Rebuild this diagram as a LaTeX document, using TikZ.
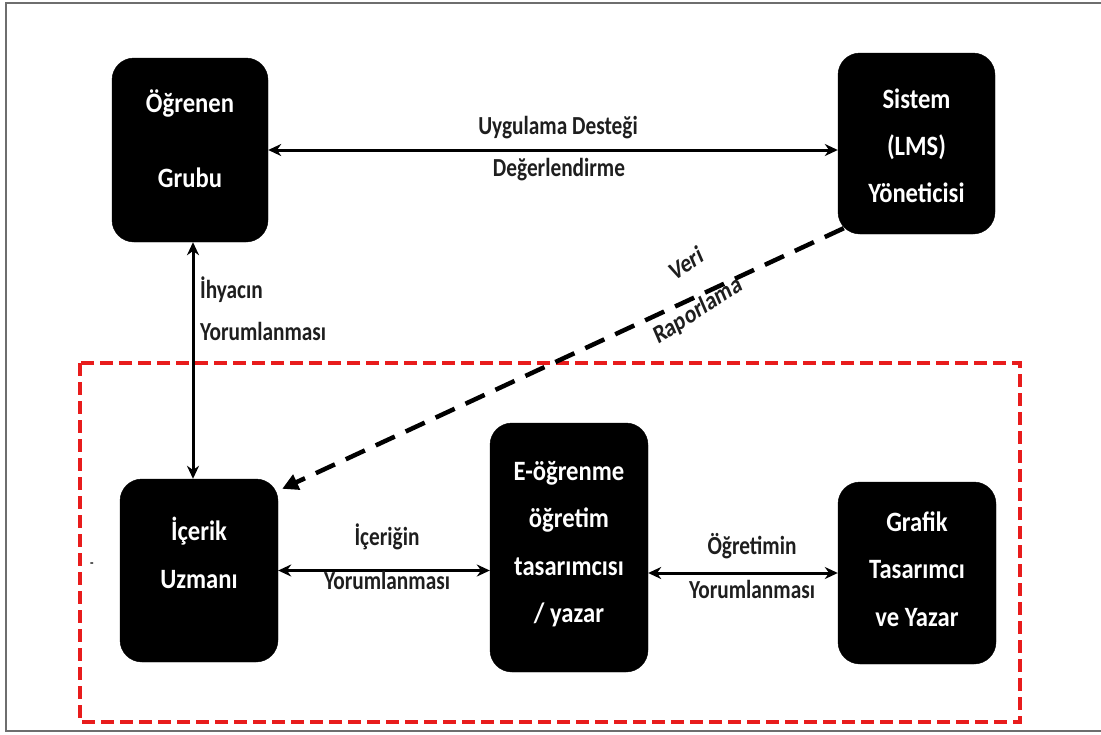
\documentclass[tikz,border=0pt]{standalone}
\usepackage{fontspec}
\setmainfont{Carlito}
\usetikzlibrary{arrows.meta,calc}
\definecolor{frameline}{RGB}{110,110,110}
\definecolor{zonered}{RGB}{232,28,28}
\definecolor{labelink}{RGB}{30,30,30}
\begin{document}
\begin{tikzpicture}[x=1pt,y=-1pt,
  blk/.style={draw=black,fill=black,rounded corners=22pt,inner sep=0pt},
  blktxt/.style={text=white,font=\fontsize{28}{52}\selectfont\bfseries,align=center,inner sep=0pt,xscale=0.88},
  lbl/.style={font=\fontsize{26}{30}\selectfont\bfseries,text=labelink,inner sep=0pt,xscale=0.82},
  link/.style={line width=3pt,{Stealth[length=13pt,width=12pt]}-{Stealth[length=13pt,width=12pt]}},
  datalink/.style={line width=4.5pt,dash pattern=on 21pt off 12pt,-{Triangle[length=16pt,width=16pt]}},
  zone/.style={draw=zonered,line width=4pt,dash pattern=on 13pt off 6pt},
]
\useasboundingbox (0,0) rectangle (1101,734);

% outer frame
\draw[frameline,line width=1.6pt] (1102,3) -- (6,3) -- (6,731) -- (1102,731);

% dashed zone around the production team
\draw[zone] (80,363) rectangle (1020,722);

% boxes
\node[blk,minimum width=156pt,minimum height=184pt] (og) at (190,150) {};
\node[blktxt] (ogt) at (190,139) {Öğrenen\\[23pt]Grubu};

\node[blk,minimum width=157pt,minimum height=181pt] (sis) at (916.5,143.5) {};
\node[blktxt,font=\fontsize{28}{47}\selectfont\bfseries] (sist) at (916.5,146) {Sistem\\(LMS)\\Yöneticisi};

\node[blk,minimum width=158pt,minimum height=183pt] (ic) at (199,570.5) {};
\node[blktxt,font=\fontsize{28}{48}\selectfont\bfseries] (ict) at (199,553) {İçerik\\Uzmanı};

\node[blk,minimum width=158pt,minimum height=249pt] (eo) at (569,547.5) {};
\node[blktxt,font=\fontsize{28}{47.5}\selectfont\bfseries] (eot) at (569,544) {E-öğrenme\\öğretim\\tasarımcısı\\/ yazar};

\node[blk,minimum width=158pt,minimum height=182pt] (gr) at (917,573) {};
\node[blktxt,font=\fontsize{28}{47.5}\selectfont\bfseries] (grt) at (917,569) {Grafik\\Tasarımcı\\ve Yazar};

% connectors
\draw[link] (og.east) -- (og.east -| sis.west);
\draw[link] ([xshift=3pt]og.south) -- ([xshift=3pt]og.south |- ic.north);
\draw[link] (ic.east) -- (ic.east -| eo.west);
\draw[link] (gr.west -| eo.east) -- (gr.west);
\draw[datalink] ($(sis.south west)+(6,-6)$) -- ($(ic.north east)+(4,10)$);

% connector labels
\node[lbl] (l1) at (558,128) {Uygulama Desteği};
\node[lbl] (l2) at (559,170) {Değerlendirme};
\node[lbl,anchor=west] (l3) at (200,290) {İhyacın};
\node[lbl,anchor=west] (l4) at (200,331) {Yorumlanması};
\node[lbl,rotate=28] (l5) at (686,263) {Veri};
\node[lbl,rotate=28] (l6) at (698,311) {Raporlama};
\node[lbl] (l7) at (387,537) {İçeriğin};
\node[lbl] (l8) at (387,580) {Yorumlanması};
\node[lbl] (l9) at (752,546) {Öğretimin};
\node[lbl] (l10) at (752,589) {Yorumlanması};
\node[lbl,font=\fontsize{14}{16}\selectfont\bfseries] (dash) at (92,565) {-};
\end{tikzpicture}
\end{document}
